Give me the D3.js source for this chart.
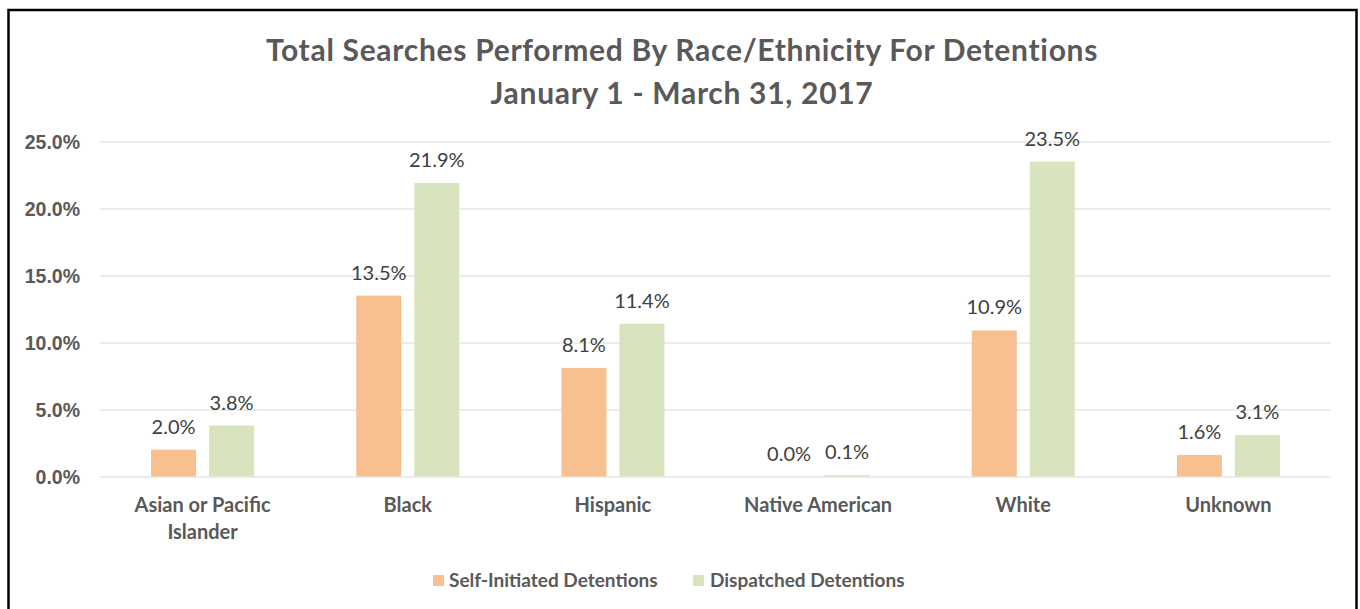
<!DOCTYPE html>
<html><head><meta charset="utf-8">
<script src="https://cdn.jsdelivr.net/npm/d3@7"></script>
<style>
html,body{margin:0;padding:0;background:#fff;}
svg{display:block;font-family:Lato, "Open Sans", sans-serif;}
</style></head>
<body><svg id="chart" width="1360" height="609"></svg>
<script>
const categories = ["Asian or Pacific Islander","Black","Hispanic","Native American","White","Unknown"];
const categoryLines = [["Asian or Pacific","Islander"],["Black"],["Hispanic"],["Native American"],["White"],["Unknown"]];
const seriesNames = ["Self-Initiated Detentions","Dispatched Detentions"];
const selfInitiated = [2.0, 13.5, 8.1, 0.0, 10.9, 1.6];
const dispatched = [3.8, 21.9, 11.4, 0.1, 23.5, 3.1];
const yTicks = [0, 5, 10, 15, 20, 25];
const titleLines = ["Total Searches Performed By Race/Ethnicity For Detentions","January 1 - March 31, 2017"];
const colors = ["#F8BF8F","#D8E4BD"];

(function(){
const svg = d3.select("#chart");
svg.append("rect").attr("x",8.5).attr("y",10).attr("width",1348).attr("height",620)
  .attr("fill","#fff").attr("stroke","#000").attr("stroke-width",2.5);

const pLeft=100, pRight=1331, pTop=141.5, pBottom=476.5;
const y = d3.scaleLinear().domain([0,25]).range([pBottom,pTop]);
const x0 = d3.scaleBand().domain(categories).range([pLeft,pRight]).padding(0);
const x1 = d3.scaleBand().domain(seriesNames)
  .range([x0.bandwidth()/2-51.5, x0.bandwidth()/2+51.5]).paddingInner(0.224).paddingOuter(0);

const yAxis = d3.axisLeft(y).tickValues(yTicks).tickSize(-(pRight-pLeft)).tickFormat(d=>d.toFixed(1)+"%").tickPadding(20);
const gy = svg.append("g").attr("transform",`translate(${pLeft},0)`).call(yAxis);
gy.select(".domain").remove();
gy.selectAll(".tick line").attr("stroke","#D9D9D9").attr("stroke-width",1);
gy.selectAll(".tick text").attr("fill","#595959").attr("font-size",19.5).attr("font-weight","bold").attr("dy","0.36em");

svg.append("g").selectAll("text").data(titleLines).join("text")
  .attr("x",682).attr("y",(d,i)=>61+i*43).attr("text-anchor","middle")
  .attr("fill","#595959").attr("font-size",30).attr("font-weight","bold")
  .attr("letter-spacing",0.7).text(d=>d);

const data = categories.map((c,i)=>({c, vals:[selfInitiated[i], dispatched[i]]}));
const groups = svg.append("g").selectAll("g").data(data).join("g")
  .attr("transform",d=>`translate(${x0(d.c)},0)`);
groups.selectAll("rect").data(d=>d.vals.map((v,j)=>({v,s:seriesNames[j],j}))).join("rect")
  .attr("x",d=>x1(d.s)).attr("width",x1.bandwidth())
  .attr("y",d=>y(d.v)).attr("height",d=>pBottom-y(d.v)).attr("fill",d=>colors[d.j]);
groups.selectAll("text.lbl").data(d=>d.vals.map((v,j)=>({v,s:seriesNames[j],j}))).join("text")
  .attr("class","lbl").attr("x",d=>x1(d.s)+x1.bandwidth()/2).attr("y",d=>y(d.v)-16)
  .attr("text-anchor","middle").attr("fill","#404040").attr("font-size",20).text(d=>d.v.toFixed(1)+"%");

const xl = svg.append("g").selectAll("text").data(categories).join("text")
  .attr("x",d=>x0(d)+x0.bandwidth()/2).attr("y",512).attr("text-anchor","middle")
  .attr("fill","#595959").attr("font-size",20).attr("font-weight","bold");
xl.selectAll("tspan").data((d,i)=>categoryLines[i]).join("tspan")
  .attr("x",function(){return this.parentNode.getAttribute("x");})
  .attr("dy",(d,i)=>i?27:0).text(d=>d);

const lg = svg.append("g");
const legX = [433, 693];
const legTextX = [449, 710];
seriesNames.forEach((s,i)=>{
  lg.append("rect").attr("x",legX[i]).attr("y",575).attr("width",11).attr("height",11).attr("fill",colors[i]);
  lg.append("text").attr("x",legTextX[i]).attr("y",587).attr("fill","#595959").attr("font-size",19).attr("font-weight","bold").text(s);
});
})();
</script></body></html>
